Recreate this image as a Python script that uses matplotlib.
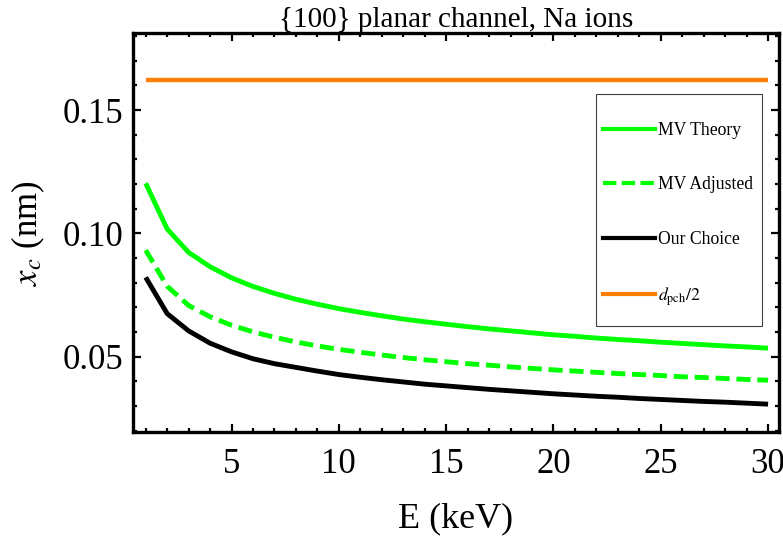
import numpy as np
import matplotlib
matplotlib.use("Agg")
import matplotlib.pyplot as plt
from matplotlib.lines import Line2D
from matplotlib.patches import Rectangle
from matplotlib.ticker import MultipleLocator

# ── config ────────────────────────────────────────────────────────────────────
plt.rcParams["font.family"] = ["Liberation Serif", "DejaVu Serif"]
plt.rcParams["mathtext.fontset"] = "stix"

GREEN  = (0.0, 1.0, 0.0)
ORANGE = (1.0, 0.5, 0.0)

# ── data ──────────────────────────────────────────────────────────────────────
energy = list(range(1, 31))   # keV

mv_theory = [0.1203, 0.1018, 0.0923, 0.0865, 0.0820, 0.0785, 0.0757, 0.0733,
             0.0713, 0.0695, 0.0680, 0.0666, 0.0653, 0.0642, 0.0632, 0.0622,
             0.0613, 0.0605, 0.0597, 0.0589, 0.0583, 0.0576, 0.0570, 0.0565,
             0.0559, 0.0554, 0.0549, 0.0544, 0.0540, 0.0535]

mv_adjusted = [0.0932, 0.0786, 0.0708, 0.0662, 0.0628, 0.0601, 0.0579, 0.0560,
               0.0544, 0.0530, 0.0518, 0.0507, 0.0497, 0.0488, 0.0480, 0.0472,
               0.0466, 0.0459, 0.0453, 0.0447, 0.0442, 0.0437, 0.0432, 0.0428,
               0.0424, 0.0419, 0.0416, 0.0412, 0.0408, 0.0405]

our_choice = [0.0822, 0.0675, 0.0605, 0.0555, 0.0520, 0.0492, 0.0472, 0.0457,
              0.0442, 0.0428, 0.0417, 0.0407, 0.0398, 0.0389, 0.0382, 0.0375,
              0.0368, 0.0362, 0.0356, 0.0350, 0.0345, 0.0340, 0.0336, 0.0331,
              0.0327, 0.0323, 0.0319, 0.0316, 0.0312, 0.0308]

d_half = 0.1620   # d_pch / 2 (nm)

# ── plot ──────────────────────────────────────────────────────────────────────
fig = plt.figure(figsize=(7.83, 5.37), dpi=100)
ax = fig.add_axes([0.1699, 0.195, 0.825, 0.743])

ax.plot(energy, mv_theory, color=GREEN, lw=3.5, solid_capstyle="butt")
ax.plot(energy, mv_adjusted, color=GREEN, lw=3.5, dashes=(2.9, 1.4),
        dash_capstyle="butt")
ax.plot(energy, our_choice, color="black", lw=3.5, solid_capstyle="butt")
ax.plot([energy[0], energy[-1]], [d_half, d_half], color=ORANGE, lw=3.2,
        solid_capstyle="butt")

ax.set_xlim(0.41, 30.51)
ax.set_ylim(0.0194, 0.1811)

ax.xaxis.set_major_locator(MultipleLocator(5))
ax.xaxis.set_minor_locator(MultipleLocator(1))
ax.yaxis.set_major_locator(MultipleLocator(0.05))
ax.yaxis.set_minor_locator(MultipleLocator(0.01))
ax.yaxis.set_major_formatter(plt.FuncFormatter(lambda v, p: f"{v:.2f}"))

ax.tick_params(which="both", direction="in", top=True, right=True,
               width=1.6, labelsize=25)
ax.tick_params(which="major", length=6)
ax.tick_params(which="minor", length=3)
ax.tick_params(axis="y", pad=7)
ax.tick_params(axis="x", pad=11)
for s in ax.spines.values():
    s.set_linewidth(2.4)

ax.set_xlabel("E (keV)", fontsize=26, labelpad=16)
ax.set_ylabel(r"$x_c$ (nm)", fontsize=25, labelpad=11)
ax.set_title("{100} planar channel, Na ions", fontsize=21, pad=3)

# legend: thin box + entries
ax.add_patch(Rectangle((0.7164, 0.2664), 0.257, 0.5816, transform=ax.transAxes,
                       fill=False, edgecolor="0.25", lw=0.8, zorder=5))
handles = [
    Line2D([], [], color=GREEN, lw=3),
    Line2D([], [], color=GREEN, lw=3, dashes=(3.2, 1.3), dash_capstyle="butt"),
    Line2D([], [], color="black", lw=3),
    Line2D([], [], color=ORANGE, lw=3),
]
labels = ["MV Theory", "MV Adjusted", "Our Choice", r"$d_{\mathrm{pch}}/2$"]
ax.legend(handles, labels, loc="upper left", bbox_to_anchor=(0.7695, 0.773),
          bbox_transform=fig.transFigure, frameon=False, fontsize=12.7,
          borderpad=0, borderaxespad=0, handlelength=3.0, handletextpad=0.15,
          labelspacing=2.12)

fig.savefig("out.png", dpi=100)
